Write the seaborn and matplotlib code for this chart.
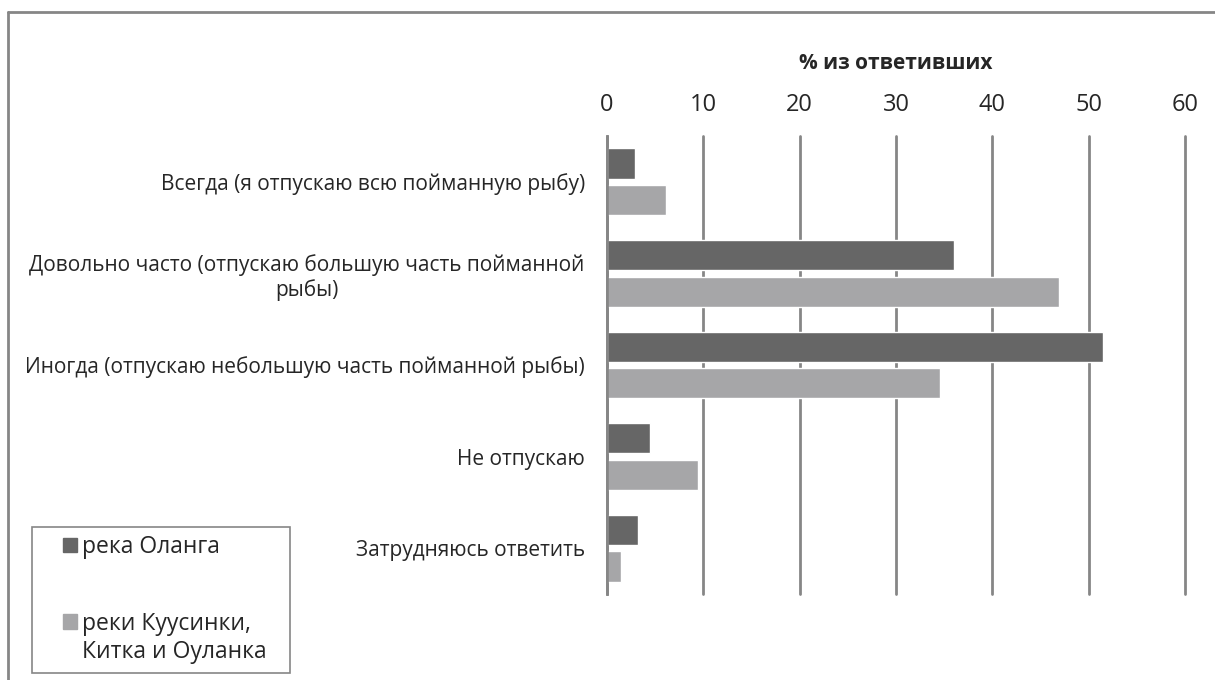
import pandas as pd
import seaborn as sns
import matplotlib.pyplot as plt
from matplotlib.lines import Line2D

# Data
categories = [
    "Всегда (я отпускаю всю пойманную рыбу)",
    "Довольно часто (отпускаю большую часть пойманной\nрыбы)",
    "Иногда (отпускаю небольшую часть пойманной рыбы)",
    "Не отпускаю",
    "Затрудняюсь ответить",
]
olanga = [2.9, 36.0, 51.5, 4.5, 3.2]
kuusinki = [6.1, 46.9, 34.6, 9.4, 1.5]
series_names = ["река Оланга", "реки Куусинки, Китка и Оуланка"]
x_ticks = [0, 10, 20, 30, 40, 50, 60]

# Long format for seaborn
df = pd.DataFrame({
    "Category": categories * 2,
    "Percent": olanga + kuusinki,
    "Series": [series_names[0]] * 5 + [series_names[1]] * 5,
})

sns.set_style("white")
plt.rcParams["font.family"] = ["Open Sans", "DejaVu Sans"]

fig = plt.figure(figsize=(12.15, 6.8), dpi=100)
ax = fig.add_axes([0.4996, 0.1265, 0.4757, 0.6735])

palette = {series_names[0]: "#666666", series_names[1]: "#a6a6a8"}
sns.barplot(data=df, y="Category", x="Percent", hue="Series", order=categories,
            palette=palette, orient="h", width=0.8, gap=0.18, ax=ax,
            legend=False, zorder=3, saturation=1)

# Axis on top
ax.set_xlim(0, 60)
ax.set_xticks(x_ticks)
ax.xaxis.tick_top()
ax.xaxis.set_label_position("top")
ax.set_xlabel("% из ответивших", fontsize=15, fontweight="bold", labelpad=17)
ax.set_ylabel("")
ax.tick_params(axis="x", length=0, pad=14, labelsize=17)
ax.tick_params(axis="y", length=0, pad=16, labelsize=15)
for lbl in ax.get_yticklabels():
    lbl.set_multialignment("center")

# Grid lines
ax.grid(axis="x", color="#868686", linewidth=2, zorder=0)
ax.grid(axis="y", visible=False)
for gl in ax.get_xgridlines():
    gl.set_clip_on(False)
for side in ["top", "right", "bottom"]:
    ax.spines[side].set_visible(False)
ax.spines["left"].set_color("#868686")
ax.spines["left"].set_linewidth(2)
ax.spines["left"].set_zorder(4)

# Legend box on the lower left
fig.add_artist(plt.Rectangle((32 / 1215, 1 - 673 / 680), 258 / 1215, 146 / 680,
                             transform=fig.transFigure, facecolor="white",
                             edgecolor="#868686", linewidth=1.2))
handles = [plt.Rectangle((0, 0), 1, 1, color=palette[s]) for s in series_names]
fig.legend(handles, ["река Оланга", "реки Куусинки,"], loc="upper left",
           bbox_to_anchor=(63 / 1215, 1 - 535 / 680), fontsize=16.5,
           frameon=False, handlelength=0.6, handleheight=0.6,
           handletextpad=0.22, labelspacing=2.3, borderpad=0, borderaxespad=0)
fig.text(82 / 1215, 1 - 652 / 680, "Китка и Оуланка", fontsize=16.5,
         ha="left", va="center")

# Outer border (left and top edges)
fig.add_artist(Line2D([8 / 1215, 8 / 1215], [0, 1 - 12 / 680],
                      transform=fig.transFigure, color="#868686", linewidth=2))
fig.add_artist(Line2D([8 / 1215, 1], [1 - 12 / 680, 1 - 12 / 680],
                      transform=fig.transFigure, color="#868686", linewidth=2))

fig.savefig("out.png", dpi=100)
